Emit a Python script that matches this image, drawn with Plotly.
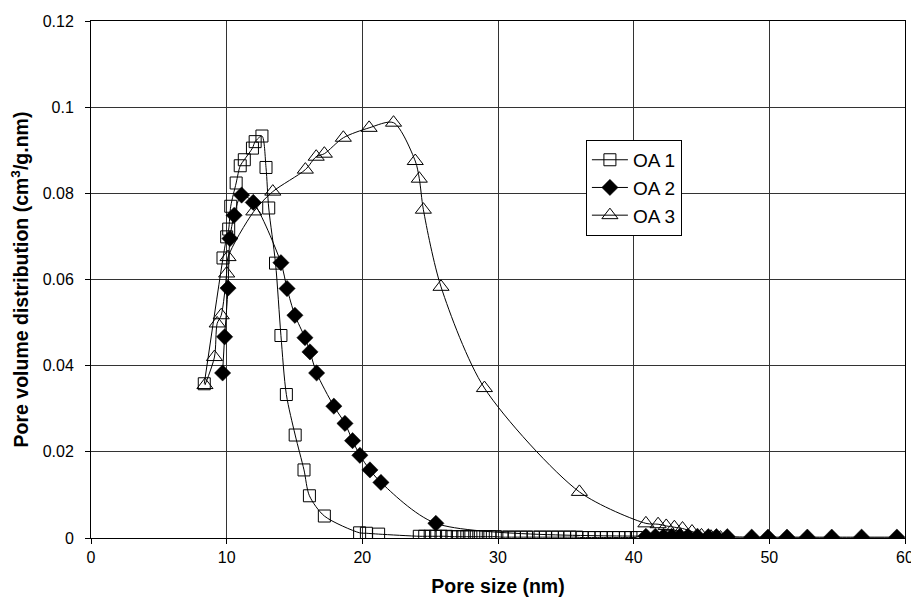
import plotly.graph_objects as go

# OA 1 (open squares)
oa1_x = [8.35, 9.73, 10.0, 10.15, 10.3, 10.7, 11.0, 11.3, 11.9, 12.1, 12.6, 12.9, 13.1, 13.6,
         14.0, 14.4, 15.05, 15.7, 16.1, 17.2, 19.8, 20.3, 21.2, 24.2, 24.6, 25.0, 25.4, 25.8,
         26.2, 26.6, 27.0, 27.4, 27.7, 28.0, 28.4, 28.7, 29.1, 29.4, 29.8, 30.3, 30.8, 31.2,
         31.7, 32.1, 32.6, 33.1, 33.5, 34.0, 34.4, 34.9, 35.3, 35.8, 36.2, 36.7, 37.1, 37.6,
         38.0, 38.5, 38.9, 39.4, 39.8, 40.2]
oa1_y = [0.0358, 0.0650, 0.0699, 0.0717, 0.0770, 0.0824, 0.0864, 0.0878, 0.0905, 0.0920, 0.0933,
         0.0860, 0.0766, 0.0638, 0.0470, 0.0333, 0.0239, 0.0158, 0.0098, 0.0051, 0.0012, 0.0011,
         0.0009, 0.0004, 0.0004, 0.0004, 0.0004, 0.0004, 0.0004, 0.0003, 0.0003, 0.0003, 0.0003,
         0.0003, 0.0003, 0.0003, 0.0003, 0.0003, 0.0003, 0.0002, 0.0002, 0.0002, 0.0002, 0.0002,
         0.0002, 0.0002, 0.0002, 0.0002, 0.0002, 0.0002, 0.0002, 0.0002, 0.0001, 0.0001, 0.0001,
         0.0001, 0.0001, 0.0001, 0.0001, 0.0001, 0.0001, 0.0001]

# OA 2 (filled diamonds)
oa2_x = [9.7, 9.85, 10.1, 10.24, 10.55, 11.1, 11.96, 14.0, 14.45, 15.03, 15.77, 16.14, 16.63,
         17.9, 18.72, 19.28, 19.82, 20.56, 21.37, 25.42, 40.9, 41.6, 42.2, 42.8, 43.4, 44.0,
         44.7, 45.5, 46.1, 46.9, 48.7, 49.9, 51.3, 52.8, 54.6, 56.8, 59.4]
oa2_y = [0.0383, 0.0467, 0.0580, 0.0695, 0.0749, 0.0796, 0.0779, 0.0639, 0.0579, 0.0517, 0.0465,
         0.0432, 0.0383, 0.0306, 0.0266, 0.0226, 0.0192, 0.0158, 0.0129, 0.0034, 0.0004, 0.0004,
         0.0004, 0.0004, 0.0004, 0.0004, 0.0004, 0.0003, 0.0003, 0.0003, 0.0002, 0.0002, 0.0002,
         0.0002, 0.0002, 0.0002, 0.0002]

# OA 3 (open triangles)
oa3_x = [8.4, 9.1, 9.3, 9.6, 10.0, 10.1, 12.0, 13.4, 15.8, 16.6, 17.2, 18.6, 20.5, 22.3, 23.9,
         24.2, 24.5, 25.8, 29.0, 36.0, 40.9, 41.8, 42.4, 43.0, 43.6, 44.3, 45.0, 45.7, 46.4,
         48.7, 49.9, 51.3, 52.8, 54.6, 56.8, 59.4]
oa3_y = [0.0355, 0.0420, 0.0498, 0.0517, 0.0614, 0.0652, 0.0758, 0.0804, 0.0855, 0.0885, 0.0892,
         0.0929, 0.0952, 0.0964, 0.0875, 0.0834, 0.0762, 0.0583, 0.0348, 0.0107, 0.0034, 0.0032,
         0.0028, 0.0025, 0.0022, 0.0015, 0.0006, 0.0003, 0.0001, 0.0, 0.0, 0.0, 0.0, 0.0, 0.0,
         0.0, 0.0]

x_ticks = [0, 10, 20, 30, 40, 50, 60]
y_ticks = [0, 0.02, 0.04, 0.06, 0.08, 0.1, 0.12]
y_tick_text = ["0", "0.02", "0.04", "0.06", "0.08", "0.1", "0.12"]

fig = go.Figure()

line_style = dict(color="black", width=1, shape="spline", smoothing=0.8)

fig.add_trace(go.Scatter(
    x=oa1_x, y=oa1_y, name="OA 1", mode="lines+markers", legendgroup="a",
    line=line_style,
    marker=dict(symbol="square-open", size=12, color="black", line=dict(width=1, color="#222222")),
))
fig.add_trace(go.Scatter(
    x=oa2_x, y=oa2_y, name="OA 2", mode="lines+markers", legendgroup="b",
    line=line_style,
    marker=dict(symbol="diamond", size=12.5, color="black", line=dict(width=0.5, color="black")),
))
fig.add_trace(go.Scatter(
    x=oa3_x, y=oa3_y, name="OA 3", mode="lines+markers", legendgroup="c",
    line=line_style,
    marker=dict(symbol="triangle-up-open", size=14, color="black", line=dict(width=1, color="#222222")),
))

# The page body has an 8px margin, so the figure is sized/offset to compensate.
fig.update_layout(
    width=911, height=590,
    margin=dict(l=83, r=14, t=13, b=60),
    paper_bgcolor="white", plot_bgcolor="white",
    font=dict(family="Arial, Liberation Sans, sans-serif", size=16, color="black"),
    showlegend=True,
    legend=dict(
        x=0.608, y=0.77, xanchor="left", yanchor="top",
        bgcolor="white", bordercolor="black", borderwidth=1,
        font=dict(size=19), tracegroupgap=0, itemwidth=36,
    ),
    xaxis=dict(
        range=[0, 60], tickvals=x_ticks, showgrid=True, gridcolor="#333333", gridwidth=1,
        showline=True, linecolor="black", linewidth=1, mirror=True,
        ticks="outside", ticklen=5, tickcolor="black", zeroline=False, automargin=False,
        tickfont=dict(size=16),
        title=dict(text="<b>Pore size (nm)</b>", font=dict(size=19.5), standoff=14),
    ),
    yaxis=dict(
        range=[0, 0.12], tickvals=y_ticks, ticktext=y_tick_text, showgrid=True,
        gridcolor="#333333", gridwidth=1,
        showline=True, linecolor="black", linewidth=1, mirror=True,
        ticks="outside", ticklen=5, tickcolor="black", zeroline=False, automargin=False,
        tickfont=dict(size=16), ticklabelstandoff=8,
        title=dict(text="<b>Pore volume distribution (cm<sup>3</sup>/g.nm)</b>", font=dict(size=19.5), standoff=8),
    ),
)

fig.write_html("out.html")
